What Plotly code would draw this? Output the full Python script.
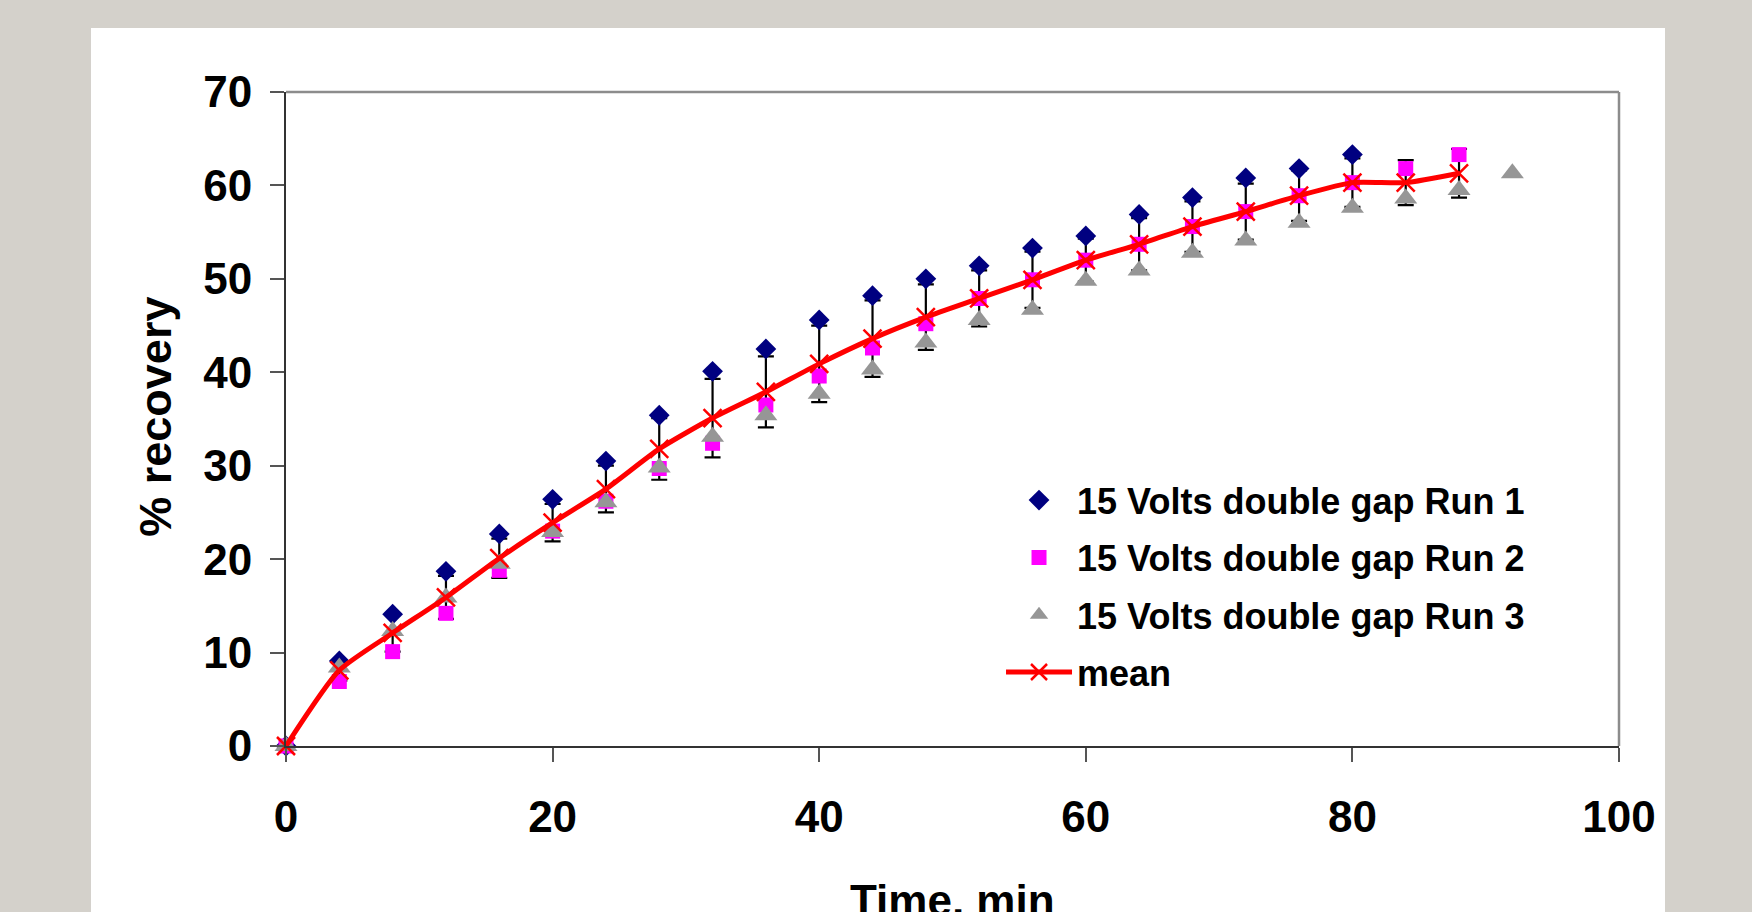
import plotly.graph_objects as go

# ---- data ----
time_run1 = [0, 4, 8, 12, 16, 20, 24, 28, 32, 36, 40, 44, 48, 52, 56, 60, 64, 68, 72, 76, 80]
run1 = [0, 9.1, 14.1, 18.7, 22.7, 26.4, 30.5, 35.4, 40.1, 42.5, 45.6, 48.2, 50.0, 51.4,
        53.3, 54.6, 56.9, 58.7, 60.8, 61.8, 63.3]

time_run2 = [0, 4, 8, 12, 16, 20, 24, 28, 32, 36, 40, 44, 48, 52, 56, 60, 64, 68, 72, 76, 80, 84, 88]
run2 = [0, 6.9, 10.1, 14.2, 18.8, 23.0, 26.2, 29.7, 32.4, 36.5, 39.6, 42.6, 45.2, 47.9,
        49.9, 52.0, 53.7, 55.6, 57.2, 58.9, 60.3, 61.8, 63.3]

time_run3 = [0, 4, 8, 12, 16, 20, 24, 28, 32, 36, 40, 44, 48, 52, 56, 60, 64, 68, 72, 76, 80, 84, 88, 92]
run3 = [0, 8.4, 12.3, 15.9, 19.5, 22.9, 26.1, 29.8, 33.1, 35.4, 37.7, 40.3, 43.2, 45.6,
        46.7, 49.8, 50.9, 52.8, 54.1, 56.0, 57.6, 58.6, 59.5, 61.3]

time_mean = [0, 4, 8, 12, 16, 20, 24, 28, 32, 36, 40, 44, 48, 52, 56, 60, 64, 68, 72, 76, 80, 84, 88]
mean = [0, 8.1, 12.1, 15.9, 20.1, 23.9, 27.5, 31.8, 35.1, 37.9, 40.9, 43.6, 45.9, 47.9,
        49.9, 52.0, 53.7, 55.6, 57.2, 58.9, 60.3, 60.3, 61.3]
mean_sd = [0, 1.1, 2.0, 2.3, 2.1, 2.0, 2.5, 3.3, 4.2, 3.8, 4.1, 4.1, 3.5, 3.0,
           3.0, 2.3, 2.8, 2.7, 3.0, 2.7, 2.6, 2.4, 2.6]

x_ticks = [0, 20, 40, 60, 80, 100]
y_ticks = [0, 10, 20, 30, 40, 50, 60, 70]

names = ["15 Volts double gap Run 1", "15 Volts double gap Run 2",
         "15 Volts double gap Run 3", "mean"]

FONT = "Liberation Sans, Arial, sans-serif"

fig = go.Figure()

# error bars (drawn beneath markers)
fig.add_trace(go.Scatter(
    x=time_mean, y=mean, mode="markers",
    marker=dict(size=1, opacity=0),
    error_y=dict(type="data", array=mean_sd, visible=True, color="black",
                 thickness=2.2, width=8),
    showlegend=False, hoverinfo="skip", cliponaxis=False))

fig.add_trace(go.Scatter(
    x=time_run1, y=run1, mode="markers", name=names[0], legendgroup="a",
    marker=dict(symbol="diamond", size=16, color="#000080"), cliponaxis=False))
fig.add_trace(go.Scatter(
    x=time_run2, y=run2, mode="markers", name=names[1], legendgroup="b",
    marker=dict(symbol="square", size=15, color="#FF00FF"), cliponaxis=False))
fig.add_trace(go.Scatter(
    x=time_run3, y=run3, mode="markers", name=names[2], legendgroup="c",
    marker=dict(symbol="triangle-up", size=20, color="#969696"), cliponaxis=False))
fig.add_trace(go.Scatter(
    x=time_mean, y=mean, mode="lines+markers", name=names[3], legendgroup="d",
    line=dict(color="#FF0000", width=5, shape="spline", smoothing=0.6),
    marker=dict(symbol="x-thin", size=18, color="#FF0000",
                line=dict(color="#FF0000", width=2.5)),
    cliponaxis=False))

fig.update_layout(
    width=1752, height=912,
    margin=dict(l=286, r=133, t=92, b=166, pad=0),
    paper_bgcolor="#d4d1cb",
    plot_bgcolor="white",
    font=dict(family=FONT, color="black", size=36, weight="bold"),
    showlegend=True,
    legend=dict(
        x=0.5364, y=0.4217, xanchor="left", yanchor="top",
        bgcolor="rgba(0,0,0,0)", borderwidth=0,
        font=dict(family=FONT, size=36, color="black", weight="bold"),
        traceorder="grouped", tracegroupgap=7.5, itemwidth=66,
    ),
    xaxis=dict(
        range=[0, 100], tickvals=x_ticks, ticktext=[str(v) for v in x_ticks],
        showgrid=False, zeroline=False,
        showline=True, linecolor="#333333", linewidth=2,
        ticks="outside", ticklen=14, tickwidth=1.5, tickcolor="#555555",
        tickfont=dict(family=FONT, size=44, color="black", weight="bold"),
        ticklabelstandoff=17,
    ),
    yaxis=dict(
        range=[0, 70], tickvals=y_ticks, ticktext=[str(v) for v in y_ticks],
        showgrid=False, zeroline=False,
        showline=True, linecolor="#333333", linewidth=2,
        ticks="outside", ticklen=14, tickwidth=1.5, tickcolor="#555555",
        tickfont=dict(family=FONT, size=44, color="black", weight="bold"),
        ticklabelstandoff=9,
    ),
    shapes=[
        # white slide panel
        dict(type="rect", xref="paper", yref="paper", x0=-0.1463, x1=1.0345,
             y0=-0.35, y1=1.0979, fillcolor="white", line=dict(width=0), layer="below"),
        # top and right border of the plot area
        dict(type="line", xref="paper", yref="paper", x0=0, x1=1, y0=1, y1=1,
             line=dict(color="#8c8c8c", width=2.5), layer="above"),
        dict(type="line", xref="paper", yref="paper", x0=1, x1=1, y0=0, y1=1,
             line=dict(color="#8c8c8c", width=2.5), layer="above"),
    ],
    annotations=[
        dict(text="% recovery", xref="paper", yref="paper", x=-0.0985, y=0.503,
             xanchor="center", yanchor="middle", textangle=-90, showarrow=False,
             font=dict(family=FONT, size=45, color="black", weight="bold")),
        dict(text="Time, min", xref="paper", yref="paper", x=0.5, y=-0.2355,
             xanchor="center", yanchor="middle", showarrow=False,
             font=dict(family=FONT, size=44, color="black", weight="bold")),
    ],
)

fig.write_html("out.html")
